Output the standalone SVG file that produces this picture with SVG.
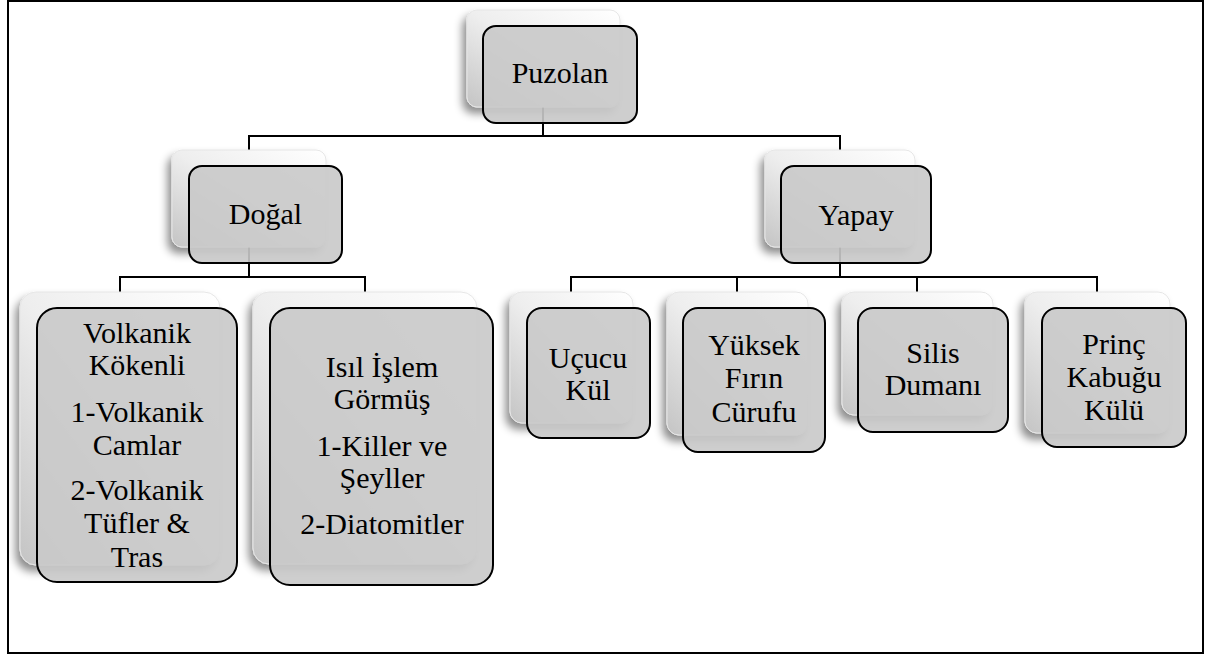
<svg xmlns="http://www.w3.org/2000/svg" width="1210" height="657" viewBox="0 0 1210 657">
<defs>
<linearGradient id="sg" x1="1" y1="0" x2="0" y2="1">
<stop offset="0" stop-color="#ffffff"/>
<stop offset="0.5" stop-color="#eeeeee"/>
<stop offset="1" stop-color="#c4c4c4"/>
</linearGradient>
<filter id="ds" x="-20%" y="-20%" width="140%" height="140%">
<feDropShadow dx="-4" dy="6" stdDeviation="4" flood-color="#000" flood-opacity="0.45"/>
</filter>
</defs>
<style>
.sh{fill:url(#sg);stroke:#e6e6e6;stroke-width:1;filter:url(#ds)}
.fr{fill:#c9c9c9;fill-opacity:0.9;stroke:#000;stroke-width:2}
.c{fill:none;stroke:#000;stroke-width:2}
.t{font-family:'Liberation Serif','Times New Roman',Times,'Nimbus Roman',FreeSerif,'Noto Serif','DejaVu Serif',serif;font-size:30px;fill:#000;text-anchor:middle}
</style>
<rect x="8" y="1" width="1195" height="652" fill="#fff" stroke="#000" stroke-width="2"/>
<g id="connectors">
<path class="c" d="M543 60V136M249 150V136H840V150"/>
<path class="c" d="M249 200V277M120 292V277H365V292"/>
<path class="c" d="M840 200V277M571 292V277H1097V292M737 277V292M917 277V292"/>
</g>
<g id="puzolan">
<rect class="sh" x="467" y="10" width="153" height="97" rx="10"/>
<rect class="fr" x="483" y="26" width="154" height="97" rx="13"/>
<text class="t" x="560" y="83">Puzolan</text>
</g>
<g id="dogal">
<rect class="sh" x="172" y="150" width="154" height="97" rx="10"/>
<rect class="fr" x="189" y="166" width="153" height="97" rx="13"/>
<text class="t" x="265.5" y="224">Doğal</text>
</g>
<g id="yapay">
<rect class="sh" x="765" y="150" width="150" height="97" rx="10"/>
<rect class="fr" x="781" y="166" width="150" height="97" rx="13"/>
<text class="t" x="856" y="225">Yapay</text>
</g>
<g id="volkanik">
<rect class="sh" x="20" y="292" width="200" height="273" rx="16"/>
<rect class="fr" x="37" y="308" width="200" height="274" rx="20"/>
<text class="t" x="137" y="343">Volkanik</text>
<text class="t" x="137" y="375">Kökenli</text>
<text class="t" x="137" y="422">1-Volkanik</text>
<text class="t" x="137" y="455">Camlar</text>
<text class="t" x="137" y="500">2-Volkanik</text>
<text class="t" x="137" y="533">Tüfler &amp;</text>
<text class="t" x="137" y="567">Tras</text>
</g>
<g id="isil">
<rect class="sh" x="253" y="292" width="224" height="272" rx="16"/>
<rect class="fr" x="270" y="308" width="223" height="277" rx="20"/>
<text class="t" x="382" y="377">Isıl İşlem</text>
<text class="t" x="382" y="409">Görmüş</text>
<text class="t" x="382" y="456">1-Killer ve</text>
<text class="t" x="382" y="488">Şeyller</text>
<text class="t" x="382" y="534">2-Diatomitler</text>
</g>
<g id="ucucu">
<rect class="sh" x="510" y="292" width="123" height="131" rx="12"/>
<rect class="fr" x="527" y="308" width="123" height="130" rx="15"/>
<text class="t" x="588" y="368">Uçucu</text>
<text class="t" x="588" y="400">Kül</text>
</g>
<g id="yuksek">
<rect class="sh" x="667" y="292" width="141" height="143" rx="12"/>
<rect class="fr" x="683" y="308" width="142" height="144" rx="15"/>
<text class="t" x="754" y="355">Yüksek</text>
<text class="t" x="754" y="388">Fırın</text>
<text class="t" x="754" y="422">Cürufu</text>
</g>
<g id="silis">
<rect class="sh" x="842" y="292" width="151" height="123" rx="12"/>
<rect class="fr" x="858" y="308" width="150" height="124" rx="15"/>
<text class="t" x="933" y="363">Silis</text>
<text class="t" x="933" y="395">Dumanı</text>
</g>
<g id="princ">
<rect class="sh" x="1025" y="292" width="145" height="141" rx="12"/>
<rect class="fr" x="1042" y="308" width="144" height="139" rx="15"/>
<text class="t" x="1114" y="354">Prinç</text>
<text class="t" x="1114" y="387">Kabuğu</text>
<text class="t" x="1114" y="420">Külü</text>
</g>
</svg>
